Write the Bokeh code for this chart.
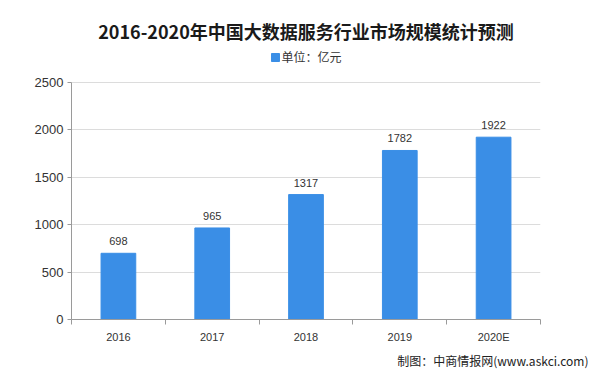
from bokeh.plotting import figure
from bokeh.models import (ColumnDataSource, Legend, LegendItem, Title, LinearAxis,
                          FixedTicker, LabelSet)
from bokeh.core.properties import value
from bokeh.embed import file_html
from bokeh.resources import INLINE

categories = ["2016", "2017", "2018", "2019", "2020E"]
values = [698, 965, 1317, 1782, 1922]
value_labels = [str(v) for v in values]
y_ticks = [0, 500, 1000, 1500, 2000, 2500]
title_text = "2016-2020年中国大数据服务行业市场规模统计预测"
legend_text = "单位：亿元"
source_text = "制图：中商情报网(www.askci.com)"

BAR = "#3a8ee6"
FONT = "Noto Sans CJK SC"
NUMFONT = "Liberation Sans"

src = ColumnDataSource(dict(cat=categories, val=values, lab=value_labels))

p = figure(width=599, height=372, x_range=categories, y_range=(0, 2857),
           output_backend="svg", toolbar_location=None,
           min_border_left=71, min_border_right=59, min_border_top=48,
           min_border_bottom=4, background_fill_color="white",
           border_fill_color="white", outline_line_color=None)

r = p.vbar(x="cat", top="val", width=0.37, source=src, color=BAR)

labels = LabelSet(x="cat", y="val", text="lab", source=src, text_align="center",
                  text_baseline="bottom", y_offset=8, text_font_size="11px",
                  text_color="#333333", text_font=value(NUMFONT))
p.add_layout(labels)

xa = p.xaxis[0]
xa.axis_line_color = None
xa.major_tick_line_color = None
xa.major_label_standoff = 0
xa.major_label_text_font_size = "11px"
xa.major_label_text_color = "#333333"
xa.major_label_text_font = NUMFONT

# boundary ticks axis (category edges in the factor range's own coordinates)
edges = list(range(len(categories) + 1))
tick_ax = LinearAxis(ticker=FixedTicker(ticks=edges),
                     major_label_overrides={e: "" for e in edges},
                     major_label_text_font_size="1px", major_label_standoff=0,
                     major_tick_out=5, major_tick_in=0, minor_tick_line_color=None,
                     axis_line_color="#9a9a9a", major_tick_line_color="#9a9a9a")

ya = p.yaxis[0]
ya.ticker = FixedTicker(ticks=y_ticks)
ya.bounds = (y_ticks[0], y_ticks[-1])
ya.axis_line_color = "#9a9a9a"
ya.major_tick_line_color = "#9a9a9a"
ya.major_tick_out = 4
ya.major_tick_in = 0
ya.minor_tick_line_color = None
ya.major_label_text_font_size = "13px"
ya.major_label_text_color = "#333333"
ya.major_label_text_font = NUMFONT
ya.major_label_standoff = 4

p.xgrid.grid_line_color = None
p.ygrid.grid_line_color = "#dcdcdc"

legend = Legend(items=[LegendItem(label=legend_text, renderers=[r])],
                orientation="horizontal", location="top_center",
                label_text_font=FONT, label_text_font_size="12px",
                label_text_color="#333333", glyph_width=10, glyph_height=10,
                label_standoff=2, border_line_color=None, background_fill_alpha=0,
                padding=2, margin=0, spacing=0)
p.add_layout(legend)

p.title.text = title_text
p.title.align = "center"
p.title.text_font = FONT
p.title.text_font_size = "18px"
p.title.text_font_style = "bold"
p.title.text_color = "#1a1a1a"
p.title.standoff = 9

src_title = Title(text=source_text, align="right", text_font=FONT,
                  text_font_size="12px", text_font_style="normal", text_color="#222222",
                  offset=-48, standoff=8)

p.below = [tick_ax, xa, src_title]

open("out.html", "w").write(file_html(p, INLINE))
